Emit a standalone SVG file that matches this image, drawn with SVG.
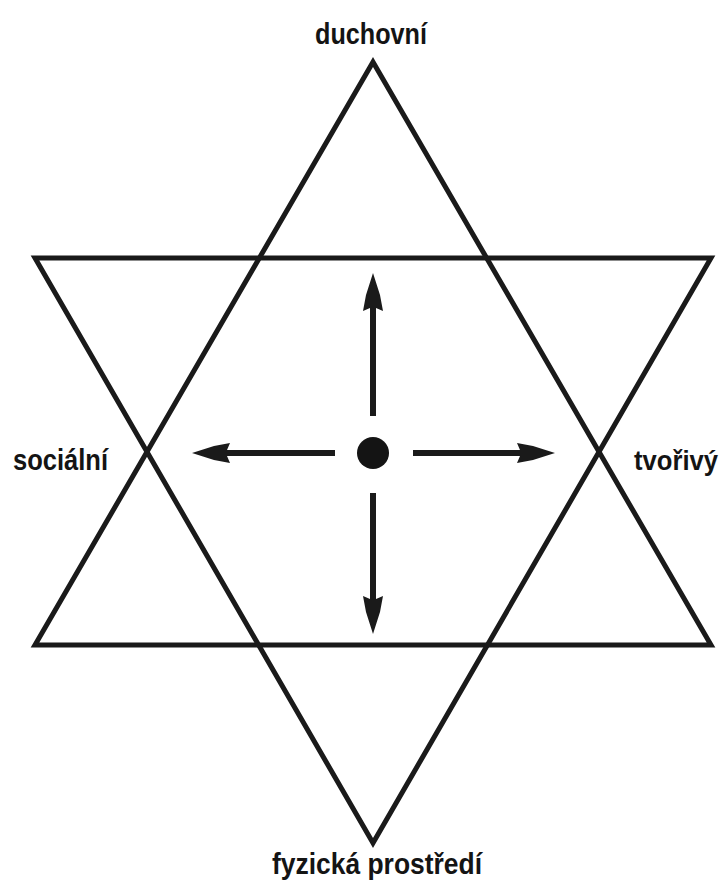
<svg xmlns="http://www.w3.org/2000/svg" width="726" height="881" viewBox="0 0 726 881">
  <style>
    .tri { fill: none; stroke: #1a1a1a; stroke-width: 5; stroke-linejoin: miter; }
    .shaft { stroke: #1a1a1a; stroke-width: 6; fill: none; }
    .head { fill: #1a1a1a; }
    .lbl { font-family: "Liberation Sans Narrow", "Liberation Sans", Arial, sans-serif; font-weight: bold; font-size: 30px; fill: #141414; }
  </style>
  <defs>
    <path id="ah" d="M0,0 L7,22 L10,38 L3,35 L-3,35 L-10,38 L-7,22 Z"/>
  </defs>
  <rect width="726" height="881" fill="#ffffff"/>

  <g id="star">
    <polygon id="triangle-up" class="tri" points="373,62 711,645 35,645"/>
    <polygon id="triangle-down" class="tri" points="35,258 711,258 373,843"/>
  </g>

  <g id="center">
    <circle cx="373" cy="453" r="16" fill="#141414"/>
  </g>

  <g id="connectors">
    <line class="shaft" x1="373" y1="416" x2="373" y2="300"/>
    <use href="#ah" class="head" transform="translate(373,273)"/>
    <line class="shaft" x1="373" y1="493" x2="373" y2="606"/>
    <use href="#ah" class="head" transform="translate(373,634) rotate(180)"/>
    <line class="shaft" x1="335" y1="453" x2="222" y2="453"/>
    <use href="#ah" class="head" transform="translate(192,453) rotate(-90)"/>
    <line class="shaft" x1="413" y1="453" x2="526" y2="453"/>
    <use href="#ah" class="head" transform="translate(555,453) rotate(90)"/>
  </g>

  <g id="label-duchovni">
    <text class="lbl" x="315" y="44" textLength="112" lengthAdjust="spacingAndGlyphs">duchovní</text>
  </g>
  <g id="label-socialni">
    <text class="lbl" x="13" y="470" textLength="95" lengthAdjust="spacingAndGlyphs">sociální</text>
  </g>
  <g id="label-tvorivy">
    <text class="lbl" x="634" y="470" font-size="27" style="font-size:27px" textLength="84" lengthAdjust="spacingAndGlyphs">tvořivý</text>
  </g>
  <g id="label-fyzicka">
    <text class="lbl" x="272" y="874" textLength="210" lengthAdjust="spacingAndGlyphs">fyzická prostředí</text>
  </g>
</svg>
